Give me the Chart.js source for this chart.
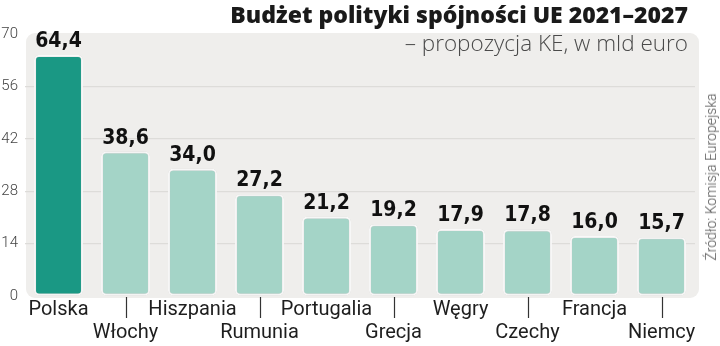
<!DOCTYPE html>
<html>
<head>
<meta charset="utf-8">
<script src="https://cdn.jsdelivr.net/npm/chart.js@4"></script>
<style>
  html, body { margin: 0; padding: 0; background: #fff; }
  #wrap { position: relative; width: 720px; height: 346px; overflow: hidden; }
  #c { position: absolute; left: 0; top: 0; }
  .title { position: absolute; right: 32px; top: 0px; font-family: "Open Sans", Roboto, sans-serif; font-weight: 800; font-size: 23px; color: #1a1a1a; white-space: nowrap; line-height: 29px; }
  .subtitle { position: absolute; right: 32px; top: 28px; font-family: "Open Sans", Roboto, sans-serif; font-weight: 300; font-size: 22.5px; color: #4a4a4a; white-space: nowrap; line-height: 29px; }
  .source { position: absolute; left: 711px; top: 177px; transform: translate(-50%, -50%) rotate(-90deg); font-family: Roboto, sans-serif; font-weight: 300; font-size: 14px; color: #555; white-space: nowrap; }
</style>
</head>
<body>
<div id="wrap">
  <canvas id="c" width="720" height="346"></canvas>
  <div class="title">Budżet polityki spójności UE 2021–2027</div>
  <div class="subtitle">– propozycja KE, w mld euro</div>
  <div class="source">Źródło: Komisja Europejska</div>
</div>
<script>
const countries = ['Polska', 'Włochy', 'Hiszpania', 'Rumunia', 'Portugalia', 'Grecja', 'Węgry', 'Czechy', 'Francja', 'Niemcy'];
const budget = [64.4, 38.6, 34.0, 27.2, 21.2, 19.2, 17.9, 17.8, 16.0, 15.7];
const yTicks = [0, 14, 28, 42, 56, 70];

const fmt = v => v.toFixed(1).replace('.', ',');

const bgPlugin = {
  id: 'bgPanel',
  beforeDraw(chart) {
    const { ctx, chartArea: a } = chart;
    ctx.save();
    ctx.fillStyle = '#efeeec';
    ctx.beginPath();
    ctx.roundRect(a.left + 1, a.top - 1, a.right - a.left + 3, a.bottom - a.top + 3, 9);
    ctx.fill();
    ctx.restore();
  },
  beforeDatasetsDraw(chart) {
    const ctx = chart.ctx;
    ctx.save();
    ctx.shadowColor = 'rgba(0,0,0,0.18)';
    ctx.shadowBlur = 3;
    ctx.shadowOffsetX = 0;
    ctx.shadowOffsetY = 0;
  },
  afterDatasetsDraw(chart) {
    const ctx = chart.ctx;
    ctx.restore();
    const meta = chart.getDatasetMeta(0);
    ctx.save();
    ctx.fillStyle = '#111';
    ctx.font = 'bold 21px "DejaVu Sans Condensed", "DejaVu Sans", sans-serif';
    ctx.textAlign = 'center';
    ctx.textBaseline = 'alphabetic';
    meta.data.forEach((bar, i) => {
      ctx.fillText(fmt(budget[i]), bar.x, bar.y - 8);
    });
    // tick marks under alternate (second-row) labels
    const xs = chart.scales.x;
    ctx.strokeStyle = '#333';
    ctx.lineWidth = 1.2;
    countries.forEach((c, i) => {
      if (i % 2 === 1) {
        const x = Math.round(xs.getPixelForValue(i)) + 0.5;
        ctx.beginPath();
        ctx.moveTo(x, chart.chartArea.bottom + 1);
        ctx.lineTo(x, chart.chartArea.bottom + 22);
        ctx.stroke();
      }
    });
    ctx.restore();
  }
};

new Chart(document.getElementById('c'), {
  type: 'bar',
  data: {
    labels: countries,
    datasets: [{
      data: budget,
      backgroundColor: budget.map((v, i) => i === 0 ? '#1a9884' : '#a4d4c7'),
      borderColor: '#ffffff',
      borderWidth: 2,
      borderRadius: 5,
      borderSkipped: false,
      categoryPercentage: 1,
      barPercentage: 0.73
    }]
  },
  options: {
    responsive: false,
    animation: false,
    devicePixelRatio: 1,
    layout: { padding: { top: 34, right: 25, left: 0, bottom: 0 } },
    plugins: { legend: { display: false }, tooltip: { enabled: false }, title: { display: false } },
    scales: {
      x: {
        grid: { display: false, drawTicks: false },
        border: { display: false },
        ticks: {
          padding: 2,
          color: '#1e1e1e',
          font: { family: 'Roboto, sans-serif', size: 20, lineHeight: 1.15 },
          maxRotation: 0,
          autoSkip: false,
          callback: (v, i) => i % 2 === 0 ? countries[i] : ['', countries[i]]
        },
        afterFit(scale) { scale.height = 50; }
      },
      y: {
        min: 0,
        max: 70,
        afterBuildTicks(scale) { scale.ticks = yTicks.map(v => ({ value: v })); },
        grid: {
          drawTicks: false,
          color: ctx => (ctx.tick && (ctx.tick.value === 0 || ctx.tick.value === 70)) ? 'rgba(0,0,0,0)' : '#dddcd9',
          lineWidth: 1.2
        },
        border: { display: false },
        ticks: {
          padding: 7,
          color: '#444',
          font: { family: 'Roboto, sans-serif', size: 15, weight: 300 }
        },
        afterFit(scale) { scale.width = 25; }
      }
    }
  },
  plugins: [bgPlugin]
});
</script>
</body>
</html>
